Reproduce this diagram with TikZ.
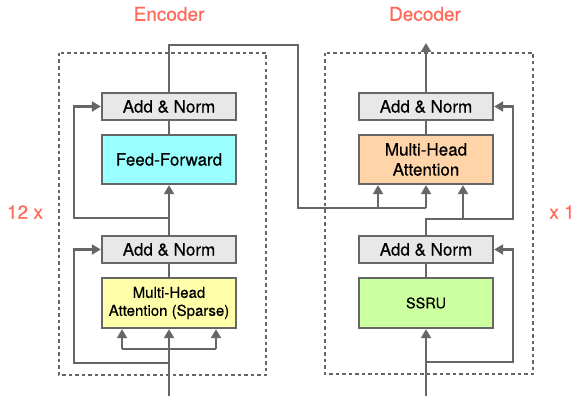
\documentclass[tikz,border=0pt]{standalone}
\usepackage{fontspec}
\setmainfont{TeX Gyre Heros}[FakeBold=0.5]
\usetikzlibrary{arrows.meta}

\definecolor{linegray}{HTML}{666666}
\definecolor{normgray}{HTML}{E8E8E8}
\definecolor{ffcyan}{HTML}{99FFFF}
\definecolor{sparseyellow}{HTML}{FFFFAA}
\definecolor{attnpeach}{HTML}{FFD4A9}
\definecolor{ssrugreen}{HTML}{CCFF9F}
\definecolor{labelred}{HTML}{FF6B5B}

\tikzset{
	block/.style = {draw = linegray, line width = 2.3pt, minimum width = 134pt, align = center, inner sep = 0pt},
	normblock/.style = {block, fill = normgray, minimum height = 27pt, font = \fontsize{17}{20}\selectfont},
	wire/.style = {draw = linegray, line width = 2.3pt},
	arr/.style = {wire, -{Triangle[length = 9pt, width = 10pt]}},
	frame/.style = {draw = linegray, line width = 1.6pt, dash pattern = on 3.5pt off 3pt},
	tag/.style = {text = labelred, font = \fontsize{19}{22}\selectfont}
}

\begin{document}
\begin{tikzpicture}[x = 1pt, y = -1pt]
	\useasboundingbox (0,0) rectangle (575,396);
	% frames and labels
	\draw [frame] (59,53) rectangle (266,375);
	\draw [frame] (325,53) rectangle (533,374);
	\node [tag] (enclabel) at (169,14) {Encoder};
	\node [tag] (declabel) at (425,14) {Decoder};
	\node [tag] (enctimes) at (25,212) {12 x};
	\node [tag] (dectimes) at (562,212) {x 1};
	% encoder blocks
	\node [normblock] (encnorm1) at (169,106.5) {Add \& Norm};
	\node [block, fill = ffcyan, minimum height = 49pt, font = \fontsize{17}{20}\selectfont] (encff) at (169,159.5) {Feed-Forward};
	\node [normblock] (encnorm2) at (169,249.5) {Add \& Norm};
	\node [block, fill = sparseyellow, minimum height = 50pt, font = \fontsize{15}{18}\selectfont] (encattn) at (169,303) {Multi-Head\\Attention (Sparse)};
	% decoder blocks
	\node [normblock] (decnorm1) at (426,106.5) {Add \& Norm};
	\node [block, fill = attnpeach, minimum height = 49pt, font = \fontsize{17}{20}\selectfont] (decattn) at (426,159.5) {Multi-Head\\Attention};
	\node [normblock] (decnorm2) at (426,249.5) {Add \& Norm};
	\node [block, fill = ssrugreen, minimum height = 50pt, font = \fontsize{14.5}{17}\selectfont] (decssru) at (426,303) {SSRU};
	% encoder wires
	\coordinate (encin) at (169,396);
	\coordinate (encsplit) at (169,349);
	\coordinate (encqk) at (122,349);
	\coordinate (encv) at (216,349);
	\coordinate (encres2) at (169,363);
	\coordinate (encres1) at (169,218);
	\draw [arr] (encin) -- (encattn.south);
	\draw [wire] (encqk) -- (encv);
	\draw [arr] (encqk) -- (encqk |- encattn.south);
	\draw [arr] (encv) -- (encv |- encattn.south);
	\draw [arr] (encres2) -- (74,363) -- (74,249.5) -- (encnorm2.west);
	\draw [wire] (encattn.north) -- (encnorm2.south);
	\draw [arr] (encnorm2.north) -- (encff.south);
	\draw [arr] (encres1) -- (74,218) -- (74,106.5) -- (encnorm1.west);
	\draw [wire] (encff.north) -- (encnorm1.south);
	% encoder to decoder
	\coordinate (memk) at (378,208);
	\coordinate (memv) at (426,208);
	\draw [wire] (encnorm1.north) -- (169,45) -- (298,45) -- (298,208) -- (memv);
	\draw [arr] (memk) -- (memk |- decattn.south);
	\draw [arr] (memv) -- (decattn.south);
	% decoder wires
	\coordinate (decin) at (426,396);
	\coordinate (decres2) at (426,362);
	\coordinate (decsplit) at (426,219);
	\coordinate (decq) at (463,219);
	\coordinate (decout) at (426,43);
	\draw [arr] (decin) -- (decssru.south);
	\draw [arr] (decres2) -- (513,362) -- (513,249.5) -- (decnorm2.east);
	\draw [wire] (decssru.north) -- (decnorm2.south);
	\draw [arr] (decnorm2.north) -- (decsplit) -- (513,219) -- (513,106.5) -- (decnorm1.east);
	\draw [arr] (decq) -- (decq |- decattn.south);
	\draw [wire] (decattn.north) -- (decnorm1.south);
	\draw [arr] (decnorm1.north) -- (decout);
\end{tikzpicture}
\end{document}
